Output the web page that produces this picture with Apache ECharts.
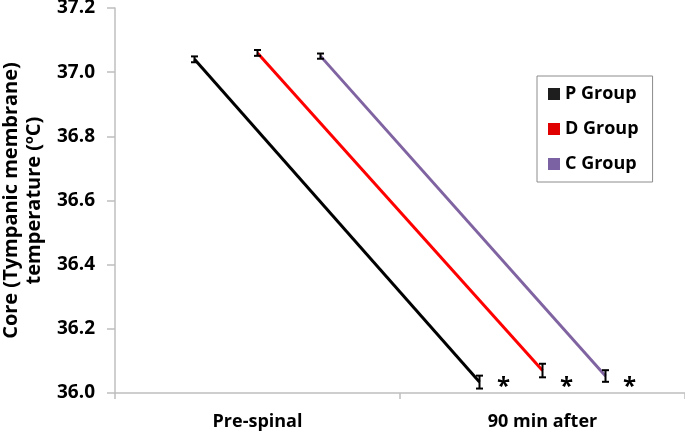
<!DOCTYPE html>
<html><head><meta charset="utf-8">
<script src="https://cdn.jsdelivr.net/npm/echarts@6/dist/echarts.min.js"></script>
<style>html,body{margin:0;padding:0;background:#fff}#c{width:685px;height:435px}</style>
</head><body><div id="c"></div>
<script>
// ---- data ----
const categories = ['Pre-spinal', '90 min after'];
const groupNames = ['P Group', 'D Group', 'C Group'];
const pGroup = [37.04, 36.034];
const dGroup = [37.06, 36.07];
const cGroup = [37.05, 36.053];
const pErr = [0.006, 0.017];
const dErr = [0.006, 0.018];
const cErr = [0.005, 0.015];
const significance = ['', '*'];
const yMin = 36.0, yMax = 37.2, yStep = 0.2;
const yTitle = 'Core (Tympanic membrane)\ntemperature (ºC)';

// ---- style ----
const FONT = '"Open Sans", sans-serif';
const colors = ['#000000', '#ff0000', '#8064a2'];
const legendColors = ['#1e1e1e', '#e00000', '#7b62a3'];
const axisGray = '#bfbfbf';
const plotTop = 8, plotH = 385, plotW = 570, baseLeft = 115, shift = 63;
const gridLefts = [baseLeft - shift, baseLeft, baseLeft + shift]; // P, D, C

const chart = echarts.init(document.getElementById('c'), null, {renderer: 'canvas'});

const grids = gridLefts.map(l => ({left: l, top: plotTop, width: plotW, height: plotH,
  containLabel: false, outerBoundsMode: 'none'}));
const xAxes = gridLefts.map((l, k) => ({
  type: 'category', gridIndex: k, data: categories, boundaryGap: true,
  show: k === 1,
  axisLine: {show: true, lineStyle: {color: axisGray, width: 1.5}},
  axisTick: {show: true, length: 6, lineStyle: {color: axisGray, width: 1.5}},
  axisLabel: {margin: 20, color: '#000', fontFamily: FONT, fontWeight: 'bold', fontSize: 18},
  splitLine: {show: false}
}));
const yAxes = gridLefts.map((l, k) => ({
  type: 'value', gridIndex: k, min: yMin, max: yMax, interval: yStep,
  show: k === 1,
  name: k === 1 ? yTitle : '', nameLocation: 'middle', nameGap: 66,
  nameTextStyle: {color: '#000', fontFamily: FONT, fontWeight: 'bold', fontSize: 20, lineHeight: 23},
  axisLine: {show: true, lineStyle: {color: axisGray, width: 1.5}},
  axisTick: {show: true, length: 8, lineStyle: {color: axisGray, width: 1.5}},
  axisLabel: {margin: 20, color: '#000', fontFamily: FONT, fontWeight: 'bold', fontSize: 19,
              formatter: v => v.toFixed(1)},
  splitLine: {show: false}
}));

const values = [pGroup, dGroup, cGroup];
const errs = [pErr, dErr, cErr];

function errRenderer(params, api) {
  const i = api.value(0), v = api.value(1), e = api.value(2);
  const top = api.coord([i, v + e]);
  const bot = api.coord([i, v - e]);
  const x = top[0], w = 3.5;
  const st = {stroke: '#000', lineWidth: 2};
  const children = [
    {type: 'line', shape: {x1: x, y1: top[1] - 1, x2: x, y2: bot[1] + 1}, style: st},
    {type: 'line', shape: {x1: x - w, y1: top[1] - 1, x2: x + w, y2: top[1] - 1}, style: st},
    {type: 'line', shape: {x1: x - w, y1: bot[1] + 1, x2: x + w, y2: bot[1] + 1}, style: st}
  ];
  const mark = significance[i];
  if (mark) {
    const base = api.coord([i, yMin]);
    children.push({type: 'text', x: x + 24, y: base[1] - 6,
      style: {text: mark, font: 'bold 24px ' + FONT, fill: '#000', align: 'center', verticalAlign: 'middle'}});
  }
  return {type: 'group', children};
}

const series = [];
values.forEach((vals, k) => {
  series.push({
    name: groupNames[k], type: 'line', xAxisIndex: k, yAxisIndex: k,
    data: vals, symbol: 'none', color: colors[k],
    lineStyle: {width: 3, color: colors[k]}, z: 2
  });
});
values.forEach((vals, k) => {
  series.push({
    type: 'custom', xAxisIndex: k, yAxisIndex: k, z: 5, clip: false,
    renderItem: errRenderer,
    data: categories.map((c, i) => [i, vals[i], errs[k][i]])
  });
});

chart.setOption({
  animation: false,
  backgroundColor: '#fff',
  grid: grids, xAxis: xAxes, yAxis: yAxes,
  legend: {
    orient: 'vertical', left: 537, top: 76,
    data: groupNames.map((n, k) => ({name: n, itemStyle: {color: legendColors[k]}})),
    icon: 'rect', itemWidth: 12, itemHeight: 12, itemGap: 13,
    padding: [7, 14, 7, 11],
    borderColor: '#8c8c8c', borderWidth: 1,
    textStyle: {color: '#000', fontFamily: FONT, fontWeight: 'bold', fontSize: 18, lineHeight: 22}
  },
  series
});
</script></body></html>
